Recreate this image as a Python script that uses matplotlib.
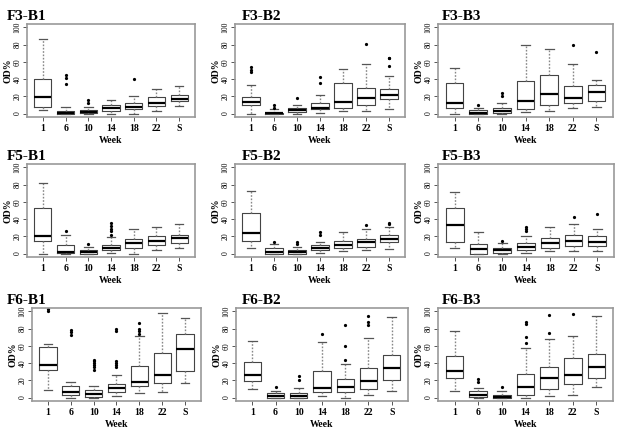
import numpy as np
import matplotlib
matplotlib.use('Agg')
import matplotlib.pyplot as plt

plt.rcParams['font.family'] = ['Liberation Serif', 'DejaVu Serif']

weeks = ['1', '6', '10', '14', '18', '22', 'S']
panels = ['F3-B1', 'F3-B2', 'F3-B3',
          'F5-B1', 'F5-B2', 'F5-B3',
          'F6-B1', 'F6-B2', 'F6-B3']

# box stats, one list per panel, in week order
whis_lo = {
    'F3-B1': [4, 0, 0, 0, 0, 3, 9],
    'F3-B2': [0, 0, 0, 1, 3, 3, 5],
    'F3-B3': [0, 0, 0, 2, 3, 6, 8],
    'F5-B1': [0, 0, 0, 1, 0, 4, 7],
    'F5-B2': [6, 0, 0, 1, 3, 4, 5],
    'F5-B3': [6, 0, 0, 1, 3, 3, 3],
    'F6-B1': [9, 0, 0, 2, 5, 7, 17],
    'F6-B2': [10, 0, 0, 2, 0, 3, 8],
    'F6-B3': [8, 0, 0, 0, 2, 3, 12],
}
q1 = {
    'F3-B1': [8, 0, 0.5, 3, 5, 9, 14],
    'F3-B2': [10, 0, 2, 5, 7, 10, 17],
    'F3-B3': [7, 0, 1, 5, 10, 12, 15],
    'F5-B1': [15, 1, 0, 4, 7, 10, 12],
    'F5-B2': [15, 0, 0, 4, 6, 8, 14],
    'F5-B3': [14, 0, 1, 4, 7, 9, 9],
    'F6-B1': [32, 3, 1, 6, 14, 17, 31],
    'F6-B2': [19, 0, 0, 6, 7, 10, 20],
    'F6-B3': [23, 1, 0, 3, 10, 16, 23],
}
med = {
    'F3-B1': [19, 1, 2, 6, 8, 12, 17],
    'F3-B2': [13, 0.5, 4, 7, 13, 18, 21],
    'F3-B3': [12, 1, 3, 15, 23, 18, 25],
    'F5-B1': [20, 2, 1.5, 7, 12, 15, 18],
    'F5-B2': [24, 2, 2, 7, 10, 13, 17],
    'F5-B3': [33, 5, 4, 8, 12, 15, 14],
    'F6-B1': [38, 6, 4, 11, 18, 26, 56],
    'F6-B2': [26, 2, 2, 11, 12, 19, 34],
    'F6-B3': [31, 3, 1, 12, 23, 26, 35],
}
q3 = {
    'F3-B1': [40, 3, 4, 10, 12, 19, 22],
    'F3-B2': [19, 1, 6, 12, 36, 30, 29],
    'F3-B3': [35, 4, 6, 38, 45, 32, 33],
    'F5-B1': [53, 10, 4, 10, 17, 20, 22],
    'F5-B2': [47, 6, 4, 10, 15, 17, 21],
    'F5-B3': [53, 11, 6, 12, 18, 21, 20],
    'F6-B1': [59, 13, 9, 16, 37, 52, 74],
    'F6-B2': [41, 5, 5, 31, 21, 34, 49],
    'F6-B3': [48, 8, 3, 27, 36, 46, 51],
}
whis_hi = {
    'F3-B1': [87, 8, 8, 16, 20, 28, 32],
    'F3-B2': [33, 5, 10, 21, 52, 57, 44],
    'F3-B3': [53, 7, 12, 80, 75, 57, 39],
    'F5-B1': [82, 22, 8, 19, 28, 31, 34],
    'F5-B2': [73, 11, 8, 14, 25, 28, 31],
    'F5-B3': [72, 25, 12, 20, 31, 34, 29],
    'F6-B1': [62, 18, 14, 26, 71, 98, 92],
    'F6-B2': [66, 8, 11, 64, 39, 69, 94],
    'F6-B3': [77, 11, 8, 58, 68, 72, 95],
}
fliers = {
    'F3-B1': [[], [34, 41, 45], [12, 16], [], [40], [], []],
    'F3-B2': [[48, 51, 54], [7, 10], [18], [35, 42], [], [81], [55, 64, 65]],
    'F3-B3': [[], [10], [20, 24], [], [], [80], [72]],
    'F5-B1': [[], [26], [11], [22, 26, 29, 32, 35], [], [], []],
    'F5-B2': [[], [13], [11, 13], [22, 25], [], [33], [34, 36]],
    'F5-B3': [[], [], [15], [26, 28, 31], [], [43], [46]],
    'F6-B1': [[100, 103], [73, 76, 78], [32, 35, 38, 40, 42, 44],
              [35, 38, 40, 42, 77, 80], [74, 77, 80, 87], [], []],
    'F6-B2': [[], [12], [20, 25], [74], [44, 60, 84], [84, 88, 95], []],
    'F6-B3': [[], [18, 21], [12], [63, 70, 85, 88], [75, 96], [97], []],
}

W, H = 620, 438
col_left = [[27, 235, 438], [27, 235, 438], [32, 236, 438]]
col_w = [[168, 170, 175], [168, 170, 176], [169, 172, 175]]
row_top = [24, 164, 308]
row_h = 93
title_x = [7, 242, 442]

fig = plt.figure(figsize=(W / 100, H / 100), dpi=100)

for i, name in enumerate(panels):
    r, c = divmod(i, 3)
    ax = fig.add_axes([col_left[r][c] / W, 1 - (row_top[r] + row_h) / H,
                       col_w[r][c] / W, row_h / H])
    stats = []
    for k in range(len(weeks)):
        stats.append(dict(med=med[name][k], q1=q1[name][k], q3=q3[name][k],
                          whislo=whis_lo[name][k], whishi=whis_hi[name][k],
                          fliers=fliers[name][k]))
    ax.bxp(stats, positions=np.arange(1, 8), widths=0.75, capwidths=0.38,
           boxprops=dict(color='#444444', lw=0.8),
           medianprops=dict(color='black', lw=1.6),
           whiskerprops=dict(color='#888888', lw=1.0, linestyle=(0, (1.2, 1.2))),
           capprops=dict(color='#555555', lw=0.9),
           flierprops=dict(marker='o', markersize=1.3, markerfacecolor='black',
                           markeredgecolor='black'))
    ax.set_xlim(0.3, 7.7)
    ax.set_ylim(-4, 104)
    ax.set_xticks(np.arange(1, 8))
    ax.set_xticklabels(weeks, fontsize=7, fontweight='bold')
    ax.set_yticks([0, 20, 40, 60, 80, 100])
    ax.set_yticklabels(['0', '20', '40', '60', '80', '100'], fontsize=5.5,
                       rotation=90, va='center')
    ax.tick_params(length=3, width=0.7, color='#555555', pad=2)
    ax.tick_params(axis='y', pad=1)
    for s in ax.spines.values():
        s.set_color('#999999')
        s.set_linewidth(1.2)
    ax.set_xlabel('Week', fontsize=7, fontweight='bold', labelpad=2)
    ax.set_ylabel('OD%', fontsize=7, fontweight='bold', labelpad=1)
    fig.text(title_x[c] / W, 1 - (row_top[r] - 8) / H, name, fontsize=11,
             fontweight='bold', va='center', ha='left')

fig.savefig('out.png', dpi=100)
